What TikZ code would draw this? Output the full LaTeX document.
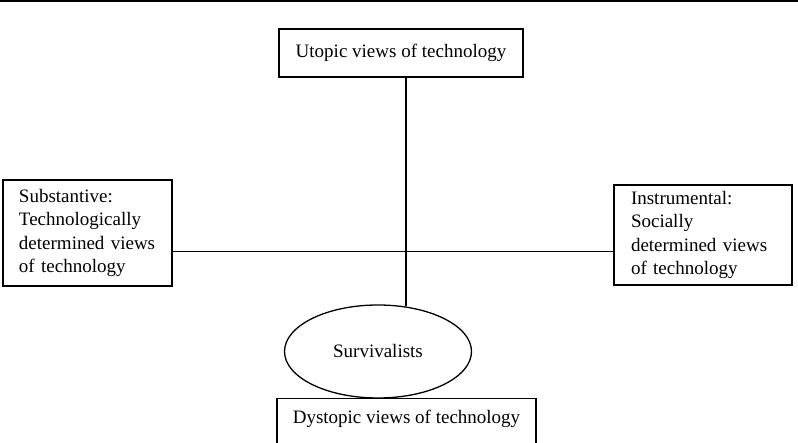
\documentclass[tikz,border=0pt]{standalone}
\usepackage{fontspec}
\setmainfont{Liberation Serif}
\usetikzlibrary{shapes.geometric}
\begin{document}
\begin{tikzpicture}[x=1pt,y=1pt,
  every node/.style={font=\fontsize{19}{23.3}\selectfont},
  box/.style={draw, line width=1.3pt, rectangle, inner sep=0pt},
  link/.style={draw, line width=1.3pt},
  oval/.style={draw, ellipse, line width=1.3pt, inner sep=0pt}
]
\useasboundingbox (0,0) rectangle (798,443);
\draw[line width=2pt] (0,442) -- (798,442);
\node[box, minimum width=244pt, minimum height=48pt] (uto) at (401,390) {Utopic views of technology};
\node[box, text width=137pt, inner xsep=16pt, align=left, minimum height=106pt] (sub) at (87.5,210) {Substantive:\\Technologically\\determined views\\of technology};
\node[box, text width=144pt, inner xsep=17pt, align=left, minimum height=100pt] (ins) at (703,208) {Instrumental:\\Socially\\determined views\\of technology};
\node[oval, minimum width=187pt, minimum height=93pt] (sur) at (378,91.5) {Survivalists};
\node[box, anchor=north, minimum width=259pt, text height=13pt, text depth=40pt, inner ysep=12pt] (dys) at (406.5,45) {Dystopic views of technology};
\coordinate (hl) at (0,191.5);
\draw[link] (sub.east |- hl) -- (ins.west |- hl);
\draw[link] (uto.south -| sur.58) -- (sur.58);
\end{tikzpicture}
\end{document}
